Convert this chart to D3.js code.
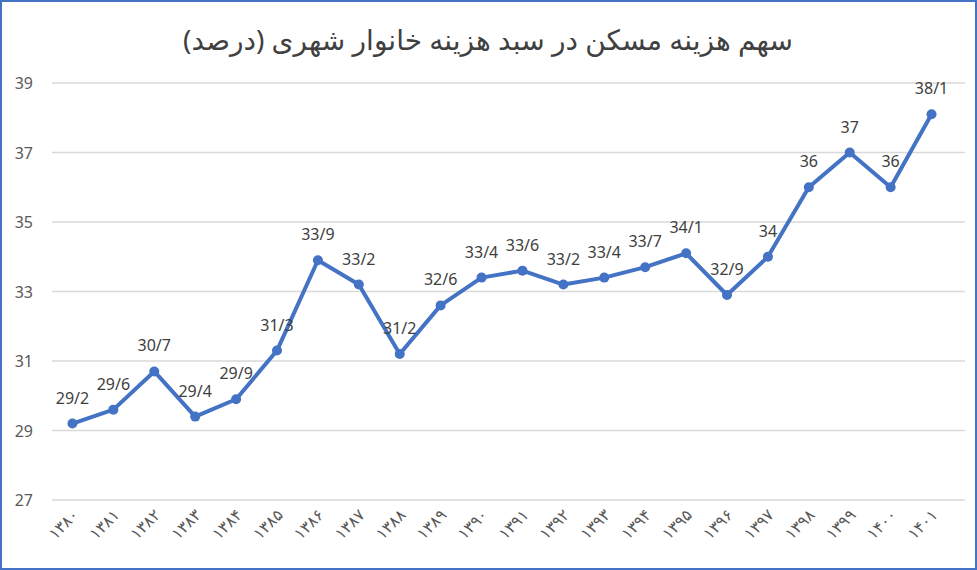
<!DOCTYPE html>
<html><head><meta charset="utf-8">
<script src="https://cdn.jsdelivr.net/npm/d3@7"></script>
<style>body{margin:0;background:#fff;font-family:"Noto Sans","DejaVu Sans",sans-serif;}</style>
</head><body><div id="chart"></div>
<script>
var years = ["۱۳۸۰","۱۳۸۱","۱۳۸۲","۱۳۸۳","۱۳۸۴","۱۳۸۵","۱۳۸۶","۱۳۸۷","۱۳۸۸","۱۳۸۹","۱۳۹۰","۱۳۹۱","۱۳۹۲","۱۳۹۳","۱۳۹۴","۱۳۹۵","۱۳۹۶","۱۳۹۷","۱۳۹۸","۱۳۹۹","۱۴۰۰","۱۴۰۱"];
var values = [29.2,29.6,30.7,29.4,29.9,31.3,33.9,33.2,31.2,32.6,33.4,33.6,33.2,33.4,33.7,34.1,32.9,34,36,37,36,38.1];
var yTicks = [27,29,31,33,35,37,39];

var width = 977, height = 570;
var svg = d3.select("#chart").append("svg").attr("width", width).attr("height", height);

svg.append("rect").attr("x",1).attr("y",1).attr("width",width-2).attr("height",height-2)
    .attr("fill","#fff").attr("stroke","#4472c4").attr("stroke-width",2);

svg.append("text").attr("x", 488).attr("y", 50).attr("text-anchor","middle")
    .attr("font-size", 28).attr("fill","#404040").attr("direction","rtl")
    .text("سهم هزینه مسکن در سبد هزینه خانوار شهری (درصد)");

var x = d3.scalePoint().domain(years).range([52, 952]).padding(0.5);
var y = d3.scaleLinear().domain([27, 39]).range([500, 83]);

// gridlines
svg.append("g").selectAll("line").data(yTicks).enter().append("line")
    .attr("x1", 52).attr("x2", 965)
    .attr("y1", d => y(d)).attr("y2", d => y(d))
    .attr("stroke", "#d9d9d9").attr("stroke-width", 1.3);

svg.append("g").selectAll("text").data(yTicks).enter().append("text")
    .attr("x", 33).attr("y", d => y(d) + 6).attr("text-anchor","end")
    .attr("font-size", 16).attr("fill", "#595959").text(d => d);

svg.append("g").selectAll("text").data(years).enter().append("text")
    .attr("transform", d => `translate(${x(d)+7},${516}) rotate(-45)`)
    .attr("text-anchor","end").attr("font-size", 16).attr("fill","#595959")
    .text(d => d);

var line = d3.line().x((d, i) => x(years[i])).y(d => y(d));
svg.append("path").datum(values).attr("d", line)
    .attr("fill","none").attr("stroke","#4472c4").attr("stroke-width",4).attr("stroke-linejoin","round");

svg.append("g").selectAll("circle").data(values).enter().append("circle")
    .attr("cx", (d, i) => x(years[i])).attr("cy", d => y(d)).attr("r", 5).attr("fill","#4472c4");

svg.append("g").selectAll("text").data(values).enter().append("text")
    .attr("x", (d, i) => x(years[i])).attr("y", d => y(d) - 20).attr("text-anchor","middle")
    .attr("font-size", 16).attr("fill","#404040")
    .text(d => String(d).replace(".", "/"));
</script></body></html>
